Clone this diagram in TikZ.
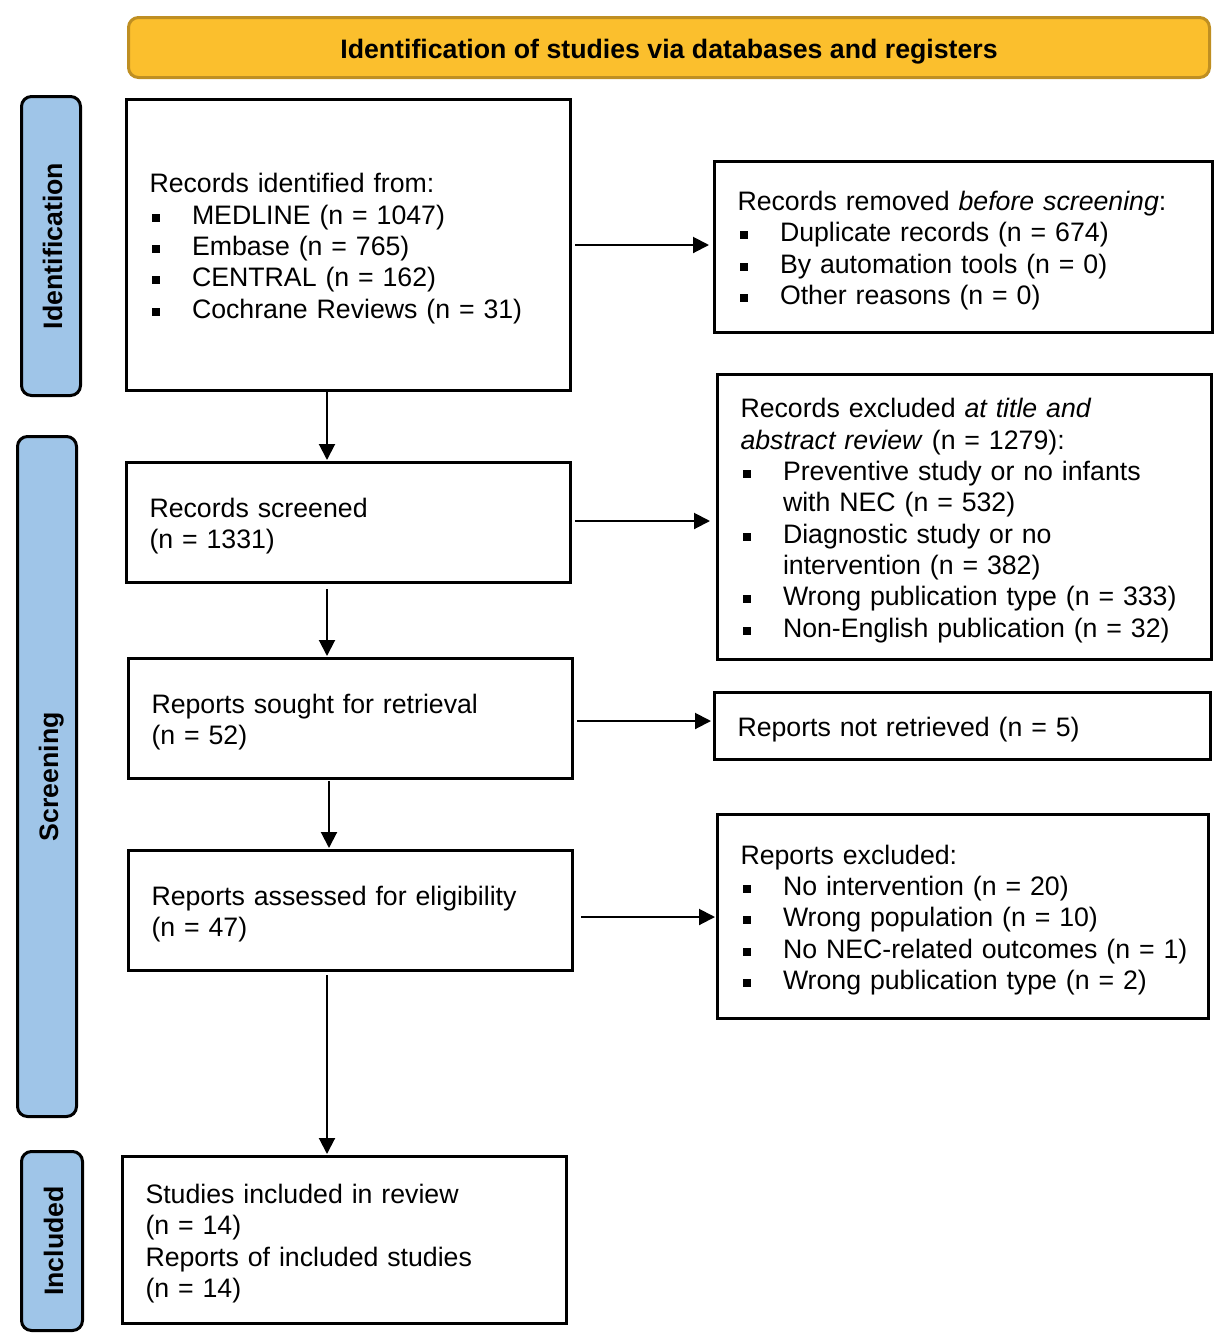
\documentclass[tikz,border=0pt]{standalone}
\usepackage{fontspec}
\setmainfont{Liberation Sans}
\usetikzlibrary{arrows.meta}
\definecolor{hdrfill}{HTML}{FBBF2D}
\definecolor{hdrline}{HTML}{BF8F22}
\definecolor{sidefill}{HTML}{9FC5E8}
\newcommand\bul[1]{\makebox[42.5pt][l]{\hspace{2.5pt}\rule[2.5pt]{8pt}{8pt}}\mbox{#1}}
\newcommand\cont{\hspace*{42.5pt}}
\begin{document}
\begin{tikzpicture}[x=1pt,y=-1pt,
  every node/.style={font=\fontsize{26.7}{31.3}\selectfont},
  box/.style={draw=black, line width=3pt, align=left, inner xsep=23pt, inner ysep=0pt, anchor=center,
    execute at begin node={\rule{0pt}{26.5pt}}},
  side/.style={draw=black, line width=3pt, fill=sidefill, rounded corners=10pt, rotate=90,
    inner sep=0pt, text height=24pt, text depth=2pt, font=\fontsize{26.7}{31.3}\selectfont\bfseries},
  hdr/.style={draw=hdrline, line width=3pt, fill=hdrfill, rounded corners=10pt,
    inner sep=0pt, text height=24pt, text depth=2pt, font=\fontsize{26.7}{31.3}\selectfont\bfseries},
  arr/.style={line width=2pt, -{Triangle[length=16pt,width=16pt]}}
]
\useasboundingbox (0,0) rectangle (1232,1342);

% header
\node[hdr, minimum width=1081pt, minimum height=60pt] (hdr) at (669,47.5)
  {Identification of studies via databases and registers};

% side labels
\node[side, minimum width=299pt, minimum height=59pt] (sI) at (51,246) {Identification};
\node[side, minimum width=680pt, minimum height=59pt] (sS) at (47,776.5) {Screening};
\node[side, minimum width=179pt, minimum height=61pt] (sN) at (52,1241) {Included};

% main column
\node[box, text width=398pt, minimum height=291pt] (b1) at (348.5,245)
  {Records identified from:\\
   \bul{MEDLINE (n = 1047)}\\
   \bul{Embase (n = 765)}\\
   \bul{CENTRAL (n = 162)}\\
   \bul{Cochrane Reviews (n = 31)}};
\node[box, text width=398pt, minimum height=120pt] (b2) at (348.5,522.5)
  {Records screened\\(n = 1331)};
\node[box, text width=398pt, minimum height=120pt] (b3) at (350.5,718.5)
  {Reports sought for retrieval\\(n = 52)};
\node[box, text width=398pt, minimum height=120pt] (b4) at (350.5,910.5)
  {Reports assessed for eligibility\\(n = 47)};
\node[box, text width=398pt, minimum height=167pt] (b5) at (344.5,1240)
  {Studies included in review\\(n = 14)\\Reports of included studies\\(n = 14)};

% right column
\node[box, text width=452pt, minimum height=171pt] (r1) at (963.5,247)
  {Records removed \textit{before screening}:\\
   \bul{Duplicate records (n = 674)}\\
   \bul{By automation tools (n = 0)}\\
   \bul{Other reasons (n = 0)}};
\node[box, text width=448pt, minimum height=285pt] (r2) at (964.5,517)
  {Records excluded \textit{at title and}\\
   \textit{abstract review} (n = 1279):\\
   \bul{Preventive study or no infants}\\
   \cont with NEC (n = 532)\\
   \bul{Diagnostic study or no}\\
   \cont intervention (n = 382)\\
   \bul{Wrong publication type (n = 333)}\\
   \bul{Non-English publication (n = 32)}};
\node[box, text width=450pt, minimum height=67pt] (r3) at (962.5,726)
  {Reports not retrieved (n = 5)};
\node[box, text width=445pt, minimum height=204pt] (r4) at (963,916.5)
  {Reports excluded:\\
   \bul{No intervention (n = 20)}\\
   \bul{Wrong population (n = 10)}\\
   \bul{No NEC-related outcomes (n = 1)}\\
   \bul{Wrong publication type (n = 2)}};

% vertical arrows
\draw[arr, shorten >=1pt] ([xshift=-21.5pt]b1.south) -- ([xshift=-21.5pt]b1.south |- b2.north);
\draw[arr, shorten <=5pt, shorten >=1pt] ([xshift=-21.5pt]b2.south) -- ([xshift=-21.5pt]b2.south |- b3.north);
\draw[arr, shorten <=1pt, shorten >=1pt] ([xshift=-21.5pt]b3.south) -- ([xshift=-21.5pt]b3.south |- b4.north);
\draw[arr, shorten <=3pt, shorten >=1pt] ([xshift=-23.5pt]b4.south) -- ([xshift=-23.5pt]b4.south |- b5.north);

% horizontal arrows
\draw[arr, shorten <=3pt, shorten >=4pt] (b1.east) -- (b1.east -| r1.west);
\draw[arr, shorten <=3pt, shorten >=6pt] ([yshift=1.5pt]b2.east) -- ([yshift=1.5pt]b2.east -| r2.west);
\draw[arr, shorten <=3pt, shorten >=2pt] ([yshift=-2.5pt]b3.east) -- ([yshift=-2.5pt]b3.east -| r3.west);
\draw[arr, shorten <=7pt, shorten >=1pt] ([yshift=-6.5pt]b4.east) -- ([yshift=-6.5pt]b4.east -| r4.west);
\end{tikzpicture}
\end{document}
